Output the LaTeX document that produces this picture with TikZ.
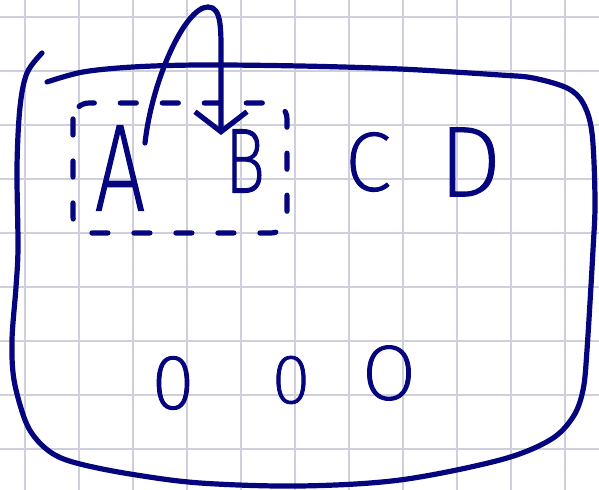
\documentclass[tikz,border=0pt]{standalone}
\usepackage{fontspec}
\newfontfamily\handfont{Fira Sans ExtraLight}[FakeBold=1.2]
\newfontfamily\handnarrow{Fira Sans ExtraLight}[FakeStretch=0.72,FakeBold=1.2]
\usetikzlibrary{arrows.meta}
\definecolor{inkblue}{RGB}{5,5,125}
\definecolor{gridgray}{RGB}{206,206,220}
\tikzset{
  pen/.style={draw=inkblue, line width=2.6pt, line cap=round, line join=round},
  gridline/.style={gridgray, line width=0.8pt},
  letter/.style={text=inkblue, inner sep=0pt, font=\handfont\fontsize{#1}{#1}\selectfont},
  letter/.default=46pt,
  narrow/.style={font=\handnarrow\fontsize{#1}{#1}\selectfont},
  groupbox/.style={pen, rounded corners=8pt, dash pattern=on 8pt off 13pt},
  linkarr/.style={pen, -{Straight Barb[length=10pt,width=26pt]}},
}
\begin{document}
\begin{tikzpicture}[x=0.5pt,y=-0.5pt]
  \useasboundingbox (0,0) rectangle (599,490);
  \fill[white] (0,0) rectangle (599,490);
  % grid paper
  \foreach \gx in {25,79,...,565} \draw[gridline] (\gx,0) -- (\gx,490);
  \foreach \gy in {17,71,...,449} \draw[gridline] (0,\gy) -- (599,\gy);
  % outer frame
  \draw[pen] plot[smooth, tension=0.55] coordinates {
    (47,82) (83,72) (133,67) (200,65) (300,66) (400,69) (500,75) (533,78)
    (567,88) (583,103) (592,133) (595,200) (593,250) (587,350) (583,390)
    (573,417) (550,440) (500,460) (400,480) (300,486) (200,483) (130,474)
    (80,464) (55,455) (37,440) (25,420) (14,380) (12,340) (16,287) (18,247)
    (17,167) (20,107) (27,73) (42,53)};
  % letters
  \node[letter, narrow=62pt] (A) at (120,168) {A};
  \node[letter, narrow=46pt] (B) at (245,161) {B};
  \node[letter=42pt] (C) at (368,162) {C};
  \node[letter=50pt] (D) at (470,162) {D};
  \node[letter=39pt] (O1) at (173,383) {0};
  \node[letter=35pt] (O2) at (291,380) {0};
  \node[letter=39pt] (O3) at (389,373) {O};
  % group around A and B
  \draw[groupbox] (73,103) rectangle (287,233);
  % link from A to B
  \coordinate (tail) at (145,143);
  \coordinate (head) at (221,135);
  \draw[linkarr] (tail) .. controls (152,80) and (185,7) .. (208,7)
    .. controls (222,7) and (221,30) .. (221,60) -- (head);
\end{tikzpicture}
\end{document}
